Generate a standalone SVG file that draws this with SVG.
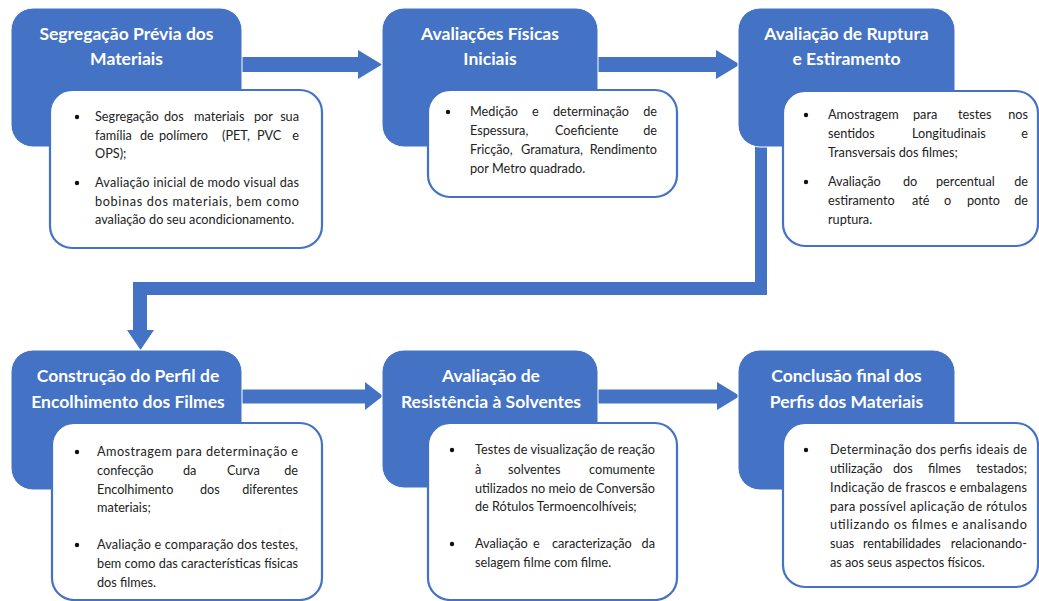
<svg xmlns="http://www.w3.org/2000/svg" width="1039" height="601" viewBox="0 0 1039 601">
<style>
.blue{fill:#4472C4;stroke:#ffffff;stroke-width:1}
.card{fill:#ffffff;stroke:#4472C4;stroke-width:2.2}
.arrow{fill:#4472C4}
.t{font-family:Lato,"Liberation Sans",sans-serif;font-weight:700;font-size:17.5px;fill:#ffffff;text-anchor:middle}
.b{font-family:Lato,"Liberation Sans",sans-serif;font-size:12.7px;fill:#222222}
.e{text-anchor:end}
.dot{fill:#111111}
</style>
<rect width="1039" height="601" fill="#ffffff"/>

<g id="connectors">
  <path class="arrow" d="M222,57 H358 V50 L382,64.5 L358,79 V72 H222 Z"/>
  <path class="arrow" d="M590,57 H716 V50 L740,64.5 L716,79 V72 H590 Z"/>
  <path class="arrow" d="M755,140 H767 V295 H147 V330 H154 L140.5,350 L127,330 H133 V282 H755 Z"/>
  <path class="arrow" d="M230,389.5 H365 V382 L383,396 L365,410 V403.5 H230 Z"/>
  <path class="arrow" d="M590,389.5 H717 V382 L740,396 L717,410 V403.5 H590 Z"/>
</g>

<g id="node1">
  <rect class="blue" x="11" y="8" width="231" height="139" rx="22"/>
  <text class="t" x="126.5" y="40">Segregação Prévia dos</text>
  <text class="t" x="126.5" y="65">Materiais</text>
  <rect class="card" x="50" y="90" width="272" height="158" rx="22"/>
  <circle class="dot" cx="77" cy="117" r="2.2"/>
  <circle class="dot" cx="77" cy="183" r="2.2"/>
  <text class="b" y="121"><tspan x="95">Segregação</tspan><tspan x="164">dos</tspan><tspan x="194">materiais</tspan><tspan x="254">por</tspan></text>
  <text class="b e" x="299" y="121">sua</text>
  <text class="b" y="140"><tspan x="95">família</tspan><tspan x="140">de</tspan><tspan x="159">polímero</tspan><tspan x="222">(PET,</tspan><tspan x="257">PVC</tspan></text>
  <text class="b e" x="299" y="140">e</text>
  <text class="b" x="95" y="158">OPS);</text>
  <text class="b" x="95" y="187" textLength="204" lengthAdjust="spacing">Avaliação inicial de modo visual das</text>
  <text class="b" x="95" y="206" textLength="204" lengthAdjust="spacing">bobinas dos materiais, bem como</text>
  <text class="b" x="95" y="224">avaliação do seu acondicionamento.</text>
</g>

<g id="node2">
  <rect class="blue" x="382" y="8" width="216" height="139" rx="22"/>
  <text class="t" x="490" y="40">Avaliações Físicas</text>
  <text class="t" x="490" y="65">Iniciais</text>
  <rect class="card" x="428" y="90" width="249" height="107" rx="22"/>
  <circle class="dot" cx="448" cy="112" r="2.2"/>
  <text class="b" y="116"><tspan x="470">Medição</tspan><tspan x="532">e</tspan><tspan x="553">determinação</tspan></text>
  <text class="b e" x="657" y="116">de</text>
  <text class="b" y="135"><tspan x="470">Espessura,</tspan><tspan x="555">Coeficiente</tspan></text>
  <text class="b e" x="657" y="135">de</text>
  <text class="b" y="154"><tspan x="470">Fricção,</tspan><tspan x="521">Gramatura,</tspan></text>
  <text class="b e" x="657" y="154">Rendimento</text>
  <text class="b" x="470" y="173">por Metro quadrado.</text>
</g>

<g id="node3">
  <rect class="blue" x="738" y="8" width="217" height="139" rx="22"/>
  <text class="t" x="846.5" y="40">Avaliação de Ruptura</text>
  <text class="t" x="846.5" y="65">e Estiramento</text>
  <rect class="card" x="783" y="91" width="255" height="155" rx="22"/>
  <circle class="dot" cx="806" cy="115" r="2.2"/>
  <circle class="dot" cx="806" cy="182" r="2.2"/>
  <text class="b" y="119"><tspan x="828">Amostragem</tspan><tspan x="913">para</tspan><tspan x="958">testes</tspan></text>
  <text class="b e" x="1028" y="119">nos</text>
  <text class="b" y="138"><tspan x="828">sentidos</tspan><tspan x="912">Longitudinais</tspan></text>
  <text class="b e" x="1028" y="138">e</text>
  <text class="b" x="828" y="157">Transversais dos filmes;</text>
  <text class="b" y="186"><tspan x="828">Avaliação</tspan><tspan x="903">do</tspan><tspan x="936">percentual</tspan></text>
  <text class="b e" x="1028" y="186">de</text>
  <text class="b" y="205"><tspan x="828">estiramento</tspan><tspan x="912">até</tspan><tspan x="944">o</tspan><tspan x="967">ponto</tspan></text>
  <text class="b e" x="1028" y="205">de</text>
  <text class="b" x="828" y="224">ruptura.</text>
</g>

<g id="node4">
  <rect class="blue" x="11" y="350" width="231" height="140" rx="22"/>
  <text class="t" x="128" y="382">Construção do Perfil de</text>
  <text class="t" x="128" y="408">Encolhimento dos Filmes</text>
  <rect class="card" x="52" y="423" width="270" height="177" rx="22"/>
  <circle class="dot" cx="77" cy="452" r="2.2"/>
  <circle class="dot" cx="77" cy="545" r="2.2"/>
  <text class="b" x="97" y="456" textLength="201" lengthAdjust="spacing">Amostragem para determinação e</text>
  <text class="b" y="475"><tspan x="97">confecção</tspan><tspan x="183">da</tspan><tspan x="227">Curva</tspan></text>
  <text class="b e" x="298" y="475">de</text>
  <text class="b" y="494"><tspan x="97">Encolhimento</tspan><tspan x="200">dos</tspan></text>
  <text class="b e" x="298" y="494">diferentes</text>
  <text class="b" x="97" y="512">materiais;</text>
  <text class="b" x="97" y="549" textLength="201" lengthAdjust="spacing">Avaliação e comparação dos testes,</text>
  <text class="b" x="97" y="568" textLength="201" lengthAdjust="spacing">bem como das características físicas</text>
  <text class="b" x="97" y="587">dos filmes.</text>
</g>

<g id="node5">
  <rect class="blue" x="382" y="350" width="216" height="138" rx="22"/>
  <text class="t" x="491" y="382">Avaliação de</text>
  <text class="t" x="491" y="408">Resistência à Solventes</text>
  <rect class="card" x="428" y="423" width="249" height="177" rx="22"/>
  <circle class="dot" cx="452" cy="450" r="2.2"/>
  <circle class="dot" cx="452" cy="544" r="2.2"/>
  <text class="b" x="475" y="454" textLength="180" lengthAdjust="spacing">Testes de visualização de reação</text>
  <text class="b" y="473.5"><tspan x="475">à</tspan><tspan x="508">solventes</tspan></text>
  <text class="b e" x="655" y="473.5">comumente</text>
  <text class="b" x="475" y="492.5" textLength="180" lengthAdjust="spacing">utilizados no meio de Conversão</text>
  <text class="b" x="475" y="511">de Rótulos Termoencolhíveis;</text>
  <text class="b" y="548"><tspan x="475">Avaliação</tspan><tspan x="533">e</tspan><tspan x="552">caracterização</tspan></text>
  <text class="b e" x="655" y="548">da</text>
  <text class="b" x="475" y="567">selagem filme com filme.</text>
</g>

<g id="node6">
  <rect class="blue" x="738" y="350" width="217" height="140" rx="22"/>
  <text class="t" x="846.5" y="382">Conclusão final dos</text>
  <text class="t" x="846.5" y="408">Perfis dos Materiais</text>
  <rect class="card" x="783" y="423" width="255" height="164" rx="22"/>
  <circle class="dot" cx="806" cy="450" r="2.2"/>
  <text class="b" x="830" y="454" textLength="197" lengthAdjust="spacing">Determinação dos perfis ideais de</text>
  <text class="b" y="472.5"><tspan x="830">utilização</tspan><tspan x="893">dos</tspan><tspan x="928">filmes</tspan></text>
  <text class="b e" x="1027" y="472.5">testados;</text>
  <text class="b" x="830" y="491.5" textLength="197" lengthAdjust="spacing">Indicação de frascos e embalagens</text>
  <text class="b" x="830" y="510.5" textLength="197" lengthAdjust="spacing">para possível aplicação de rótulos</text>
  <text class="b" x="830" y="529" textLength="197" lengthAdjust="spacing">utilizando os filmes e analisando</text>
  <text class="b" y="548"><tspan x="830">suas</tspan><tspan x="863">rentabilidades</tspan></text>
  <text class="b e" x="1027" y="548">relacionando-</text>
  <text class="b" x="830" y="567">as aos seus aspectos físicos.</text>
</g>
</svg>
